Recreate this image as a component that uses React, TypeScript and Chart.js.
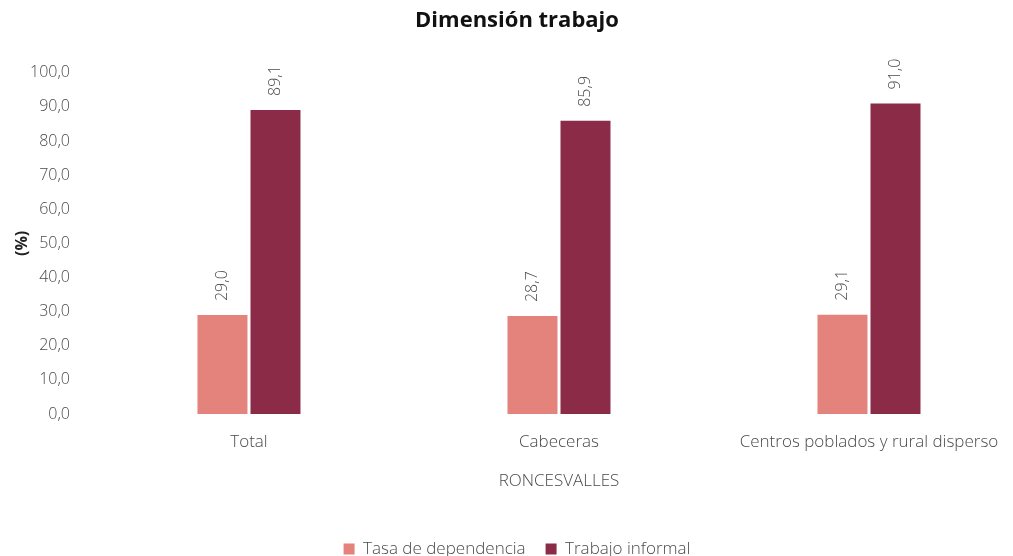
import React, { useEffect, useRef } from "react";
import { Chart, registerables } from "chart.js";

Chart.register(...registerables);

const categories = ["Total", "Cabeceras", "Centros poblados y rural disperso"];
const tasaDependencia = [29.0, 28.7, 29.1];
const trabajoInformal = [89.1, 85.9, 91.0];
const seriesNames = ["Tasa de dependencia", "Trabajo informal"];
const seriesColors = ["#E4827C", "#8C2B47"];
const chartTitle = "Dimensión trabajo";
const xTitle = "RONCESVALLES";
const yTitle = "(%)";

const fmt = (v: number) => v.toFixed(1).replace(".", ",");
const FONT = "'Open Sans', 'DejaVu Sans', sans-serif";
const TEXT = "#4a4a4a";

const dataLabelPlugin = {
  id: "rotatedLabels",
  afterDatasetsDraw(chart: any) {
    const ctx = chart.ctx;
    chart.data.datasets.forEach((ds: any, di: number) => {
      const meta = chart.getDatasetMeta(di);
      meta.data.forEach((bar: any, i: number) => {
        const v = ds.data[i];
        ctx.save();
        ctx.translate(bar.x, bar.y - 14);
        ctx.rotate(-Math.PI / 2);
        ctx.font = `300 16px ${FONT}`;
        ctx.fillStyle = TEXT;
        ctx.textAlign = "left";
        ctx.textBaseline = "middle";
        ctx.fillText(fmt(v), 0, 0);
        ctx.restore();
      });
    });
  },
};

export default function App() {
  const ref = useRef<HTMLCanvasElement>(null);
  useEffect(() => {
    if (!ref.current) return;
    const chart = new Chart(ref.current, {
      type: "bar",
      data: {
        labels: categories,
        datasets: [
          {
            label: seriesNames[0],
            data: tasaDependencia,
            backgroundColor: seriesColors[0],
            categoryPercentage: 0.342,
            barPercentage: 0.943,
          },
          {
            label: seriesNames[1],
            data: trabajoInformal,
            backgroundColor: seriesColors[1],
            categoryPercentage: 0.342,
            barPercentage: 0.943,
          },
        ],
      },
      options: {
        animation: false,
        responsive: false,
        maintainAspectRatio: false,
        layout: { padding: { left: 10, right: 0, top: 0, bottom: -11.5 } },
        plugins: {
          title: {
            display: true,
            text: chartTitle,
            color: "#111",
            font: { family: FONT, size: 22, weight: "bold" },
            padding: { top: 7.8, bottom: 38.5 },
          },
          legend: {
            position: "bottom",
            labels: {
              boxWidth: 11,
              boxHeight: 11,
              color: TEXT,
              font: { family: FONT, size: 17, weight: "300" },
              padding: 20,
            },
          },
          tooltip: { enabled: false },
        },
        scales: {
          x: {
            grid: { display: false, tickLength: 17.8 },
            border: { display: false },
            ticks: {
              color: TEXT,
              font: { family: FONT, size: 17, weight: "300" },
              padding: 0,
              maxRotation: 0,
            },
            title: {
              display: true,
              text: xTitle,
              color: TEXT,
              font: { family: FONT, size: 17, weight: "300" },
              padding: { top: 18.6, bottom: 29.3 },
            },
          },
          y: {
            min: 0,
            max: 100,
            grid: { display: false, tickLength: 24 },
            border: { display: false },
            ticks: {
              stepSize: 10,
              color: TEXT,
              font: { family: FONT, size: 16, weight: "300" },
              padding: 0,
              callback: (v: any) => fmt(Number(v)),
            },
            title: {
              display: true,
              text: yTitle,
              color: "#222",
              font: { family: FONT, size: 16, weight: "bold", lineHeight: 1 },
              padding: { top: 4, bottom: 0 },
            },
          },
        },
      },
      plugins: [dataLabelPlugin],
    });
    return () => chart.destroy();
  }, []);
  return (
    <div
      style={{
        position: "absolute",
        left: 0,
        top: 0,
        width: 1013,
        height: 556,
        overflow: "hidden",
        background: "#fff",
      }}
    >
      <canvas ref={ref} width={1024} height={556} style={{ display: "block" }} />
    </div>
  );
}
